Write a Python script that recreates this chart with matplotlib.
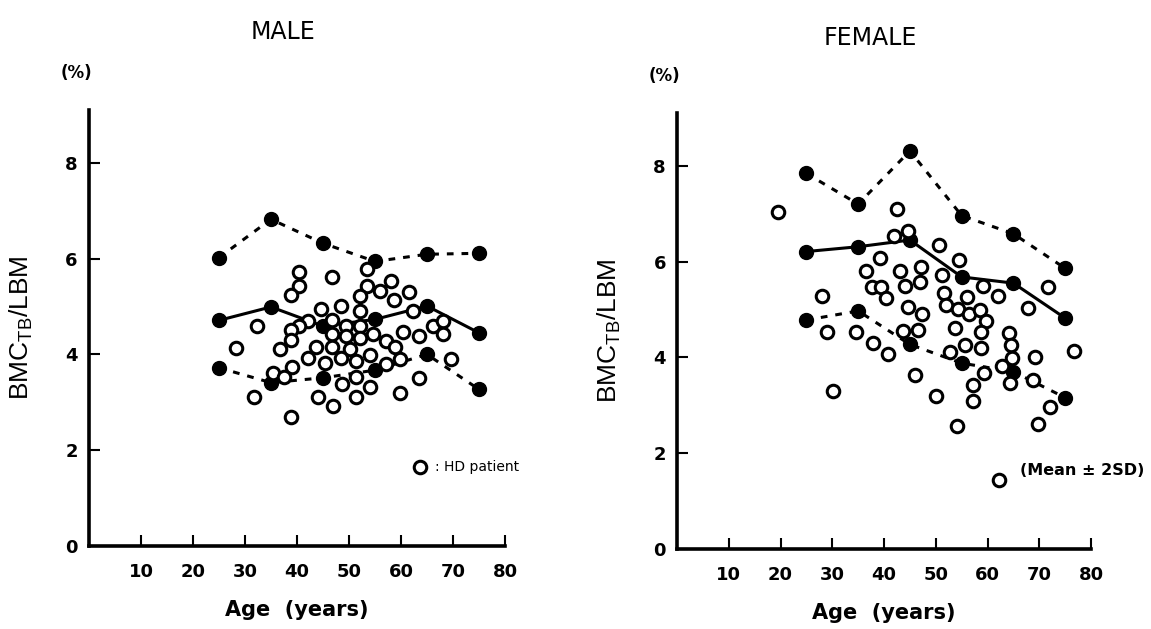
import matplotlib
matplotlib.use('Agg')
import matplotlib.pyplot as plt

# reference group (age groups) -- mean and +/- 2SD
group_age = [25, 35, 45, 55, 65, 75]

male_upper = [6.02, 6.82, 6.32, 5.94, 6.09, 6.11]
male_mean = [4.71, 4.99, 4.59, 4.73, 5.01, 4.45]
male_lower = [3.72, 3.41, 3.51, 3.67, 4.00, 3.27]

female_upper = [7.84, 7.20, 8.31, 6.96, 6.58, 5.86]
female_mean = [6.21, 6.31, 6.45, 5.68, 5.55, 4.82]
female_lower = [4.78, 4.97, 4.27, 3.88, 3.70, 3.16]

# HD patients
male_age = [40.4, 46.7, 40.4, 38.8, 53.5, 53.5, 58.0, 56.0, 52.1, 61.6,
            58.7, 48.5, 44.7, 52.1, 62.4, 32.4, 42.2, 40.4, 38.8, 46.7,
            49.4, 52.1, 38.8, 46.7, 49.4, 52.1, 54.7, 60.3, 63.5, 66.1,
            68.1, 68.0, 28.3, 36.7, 43.7, 46.7, 50.2, 57.1, 58.8, 42.2,
            45.3, 48.4, 51.3, 54.0, 59.8, 57.1, 39.0, 35.4, 37.5, 51.3,
            48.7, 54.0, 63.5, 69.7, 31.7, 44.1, 51.3, 59.8, 46.9, 38.8]
male_val = [5.73, 5.62, 5.42, 5.23, 5.78, 5.43, 5.53, 5.32, 5.22, 5.31,
            5.14, 5.01, 4.94, 4.91, 4.91, 4.59, 4.70, 4.59, 4.50, 4.72,
            4.59, 4.59, 4.31, 4.42, 4.38, 4.34, 4.43, 4.47, 4.38, 4.59,
            4.70, 4.42, 4.14, 4.11, 4.16, 4.16, 4.11, 4.28, 4.16, 3.92,
            3.83, 3.92, 3.86, 3.99, 3.90, 3.79, 3.74, 3.62, 3.53, 3.53,
            3.38, 3.32, 3.51, 3.90, 3.11, 3.11, 3.10, 3.20, 2.92, 2.70]

female_age = [19.6, 42.6, 41.9, 44.6, 50.6, 39.3, 54.5, 36.6, 43.0, 47.1,
              51.2, 37.6, 39.5, 40.3, 44.0, 47.0, 28.1, 44.6, 47.4, 51.5,
              56.1, 51.9, 54.3, 56.4, 58.6, 59.1, 62.0, 67.9, 71.7, 59.7,
              28.9, 34.5, 37.9, 40.8, 43.7, 46.6, 53.7, 58.7, 55.6, 58.7,
              52.8, 64.1, 64.6, 64.8, 62.7, 59.3, 64.3, 69.1, 68.8, 76.7,
              72.1, 69.7, 57.2, 57.1, 50.1, 45.9, 54.1, 30.1, 62.2]
female_val = [7.03, 7.10, 6.54, 6.64, 6.35, 6.07, 6.03, 5.80, 5.80, 5.89,
              5.71, 5.46, 5.46, 5.23, 5.48, 5.57, 5.29, 5.06, 4.90, 5.34,
              5.27, 5.09, 5.02, 4.90, 4.99, 5.48, 5.29, 5.04, 5.46, 4.77,
              4.54, 4.52, 4.31, 4.07, 4.56, 4.57, 4.62, 4.52, 4.26, 4.19,
              4.12, 4.50, 4.26, 3.98, 3.81, 3.68, 3.46, 4.00, 3.53, 4.14,
              2.96, 2.61, 3.42, 3.08, 3.20, 3.63, 2.57, 3.30, 1.44]

x_ticks = [10, 20, 30, 40, 50, 60, 70, 80]
y_ticks = [0, 2, 4, 6, 8]

plt.rcParams['font.family'] = ['DejaVu Sans']

fig = plt.figure(figsize=(11.51, 6.29), dpi=100)
ax_m = fig.add_axes([0.0773, 0.132, 0.3614, 0.693])
ax_f = fig.add_axes([0.5882, 0.1272, 0.3597, 0.693])

dash = (0, (2.2, 2.6))


def draw_panel(ax, ages, vals, upper, mean, lower):
    ax.plot(group_age, upper, color='black', lw=2.2, linestyle=dash,
            marker='o', ms=10, mfc='black', mec='black', zorder=3)
    ax.plot(group_age, lower, color='black', lw=2.2, linestyle=dash,
            marker='o', ms=10, mfc='black', mec='black', zorder=3)
    ax.plot(group_age, mean, color='black', lw=2.2, linestyle='-',
            marker='o', ms=10, mfc='black', mec='black', zorder=3)
    ax.plot(ages, vals, linestyle='none', marker='o', ms=9, mfc='white',
            mec='black', mew=2.2, zorder=4)

    ax.set_xlim(0, 80)
    ax.set_ylim(0, 9.1)
    ax.set_xticks(x_ticks)
    ax.set_yticks(y_ticks)
    for s in ['top', 'right']:
        ax.spines[s].set_visible(False)
    for s in ['left', 'bottom']:
        ax.spines[s].set_linewidth(2.6)
    ax.tick_params(direction='in', length=8, width=1.5, labelsize=13)
    ax.tick_params(axis='x', pad=12)
    ax.tick_params(axis='y', pad=8)
    for lab in ax.get_xticklabels() + ax.get_yticklabels():
        lab.set_fontweight('bold')
    ax.set_xlabel('Age  (years)', fontsize=15, fontweight='bold', labelpad=14)
    ax.set_ylabel(r'BMC$_{\mathregular{TB}}$/LBM', fontsize=19,
                  family='Liberation Sans', labelpad=22)
    ax.text(-0.03, 1.085, '(%)', transform=ax.transAxes, fontsize=12,
            fontweight='bold', ha='center', va='center')


draw_panel(ax_m, male_age, male_val, male_upper, male_mean, male_lower)
draw_panel(ax_f, female_age, female_val, female_upper, female_mean, female_lower)

fig.text(0.246, 0.949, 'MALE', fontsize=17, ha='center', va='center')
fig.text(0.756, 0.940, 'FEMALE', fontsize=17, ha='center', va='center')

# legend / annotations
ax_m.plot([63.6], [1.65], linestyle='none', marker='o', ms=9, mfc='white',
          mec='black', mew=2.2, clip_on=False)
ax_m.text(66.6, 1.65, ': HD patient', fontsize=10, va='center', ha='left')
ax_f.text(66.2, 1.63, '(Mean ± 2SD)', fontsize=11.5, fontweight='bold',
          va='center', ha='left')

fig.savefig('out.png', dpi=100)
